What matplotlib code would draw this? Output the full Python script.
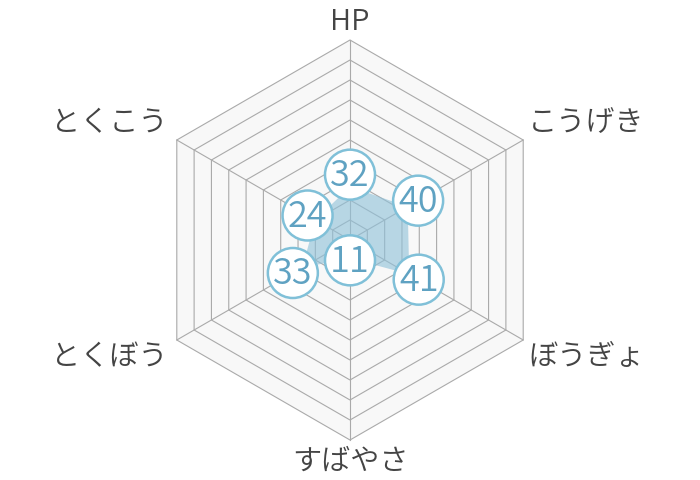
import numpy as np
import matplotlib
matplotlib.use("Agg")
import matplotlib.pyplot as plt
from matplotlib.patches import Polygon, Circle

plt.rcParams['font.family'] = ['Noto Sans CJK JP', 'DejaVu Sans']

# data
stats = ["HP", "こうげき", "ぼうぎょ", "すばやさ", "とくぼう", "とくこう"]
values = [32, 40, 41, 11, 33, 24]
scale_max = 120
ring_step = 12

# style
px = 200 / scale_max          # pixels per data unit
label_pad_px = [12, 12, 11, 2, 11, 9]
name_offsets = [(0, 18, "center"), (5, 17, "left"), (5, -17, "left"),
                (0, -22, "center"), (-9, -17, "right"), (-9, 17, "right")]
grid_col = "#aaaaaa"
fill_col = "#8fc1d9"
ring_col = "#80c0d8"
num_col = "#5fa2c2"
text_col = "#444444"

angles = np.deg2rad(90 - 60 * np.arange(len(stats)))
ux, uy = np.cos(angles), np.sin(angles)

fig = plt.figure(figsize=(7, 4.8), dpi=100)
ax = fig.add_axes([0, 0, 1, 1])
ax.set_xlim(-350 / px, 350 / px)
ax.set_ylim(-240 / px, 240 / px)
ax.set_aspect("equal")
ax.axis("off")

# background hexagon
outer = np.column_stack([ux, uy]) * scale_max
ax.add_patch(Polygon(outer, closed=True, facecolor="#f8f8f8", edgecolor="none", zorder=0))

# rings and spokes
for r in range(ring_step, scale_max + 1, ring_step):
    pts = np.column_stack([ux, uy]) * r
    ax.add_patch(Polygon(pts, closed=True, fill=False, edgecolor=grid_col, lw=0.8, zorder=1))
for x, y in outer:
    ax.plot([0, x], [0, y], color=grid_col, lw=0.8, zorder=1)

# data polygon
v = np.array(values, dtype=float)
data_pts = np.column_stack([ux * v, uy * v])
ax.add_patch(Polygon(data_pts, closed=True, facecolor=fill_col, alpha=0.62,
                     edgecolor="none", zorder=2))

# value bubbles
for i, val in enumerate(values):
    r = val + label_pad_px[i] / px
    cx, cy = ux[i] * r, uy[i] * r
    ax.add_patch(Circle((cx, cy), 25 / px, facecolor="white", edgecolor=ring_col,
                        lw=1.8, zorder=3 + i))
    ax.text(cx, cy - 1 / px, str(val), ha="center", va="center", fontsize=26,
            fontweight=350, color=num_col, zorder=3 + i)

# axis names
for i, name in enumerate(stats):
    dx, dy, ha = name_offsets[i]
    ax.annotate(name, (outer[i, 0], outer[i, 1]), xytext=(dx, dy),
                textcoords="offset pixels", ha=ha, va="center",
                fontsize=21, fontweight=350, color=text_col)

fig.savefig("out.png", dpi=100)
